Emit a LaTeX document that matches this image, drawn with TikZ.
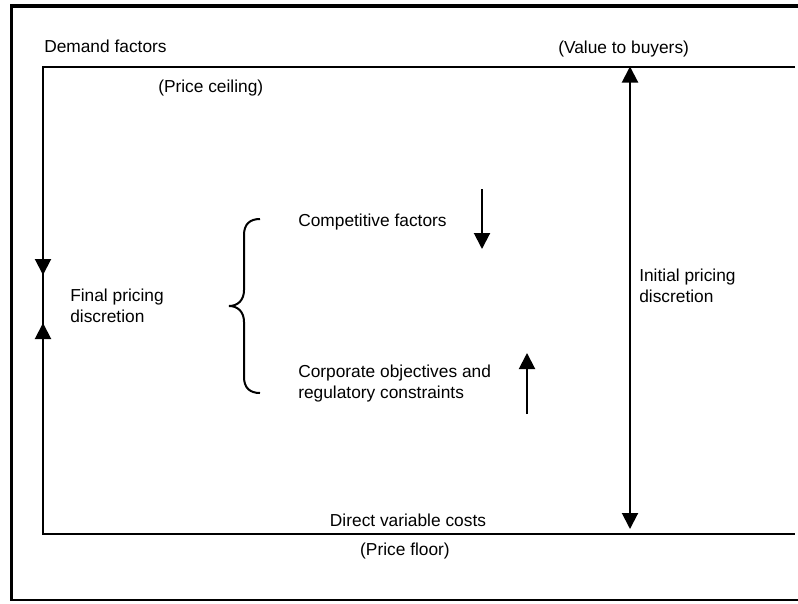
\documentclass[tikz,border=0pt]{standalone}
\usepackage{fontspec}
\setmainfont{Liberation Sans}
\usetikzlibrary{arrows.meta}
\begin{document}
\begin{tikzpicture}[x=0.75pt,y=-0.75pt,
  lbl/.style={inner sep=0pt,anchor=base west,align=left,
    font=\fontsize{13}{15.75}\selectfont},
  rule/.style={line width=1.5pt},
  push/.style={line width=1.5pt,-{Triangle[length=12pt,width=12pt]}},
  both/.style={line width=1.5pt,{Triangle[length=12pt,width=12pt]}-{Triangle[length=12pt,width=12pt]}}]
\useasboundingbox (0,0) rectangle (798,603);

% outer frame (open on the right)
\draw[line width=2.6pt] (10,6) -- (798,6);
\draw[line width=2.3pt] (11.5,4.5) -- (11.5,601);
\draw[line width=1.6pt] (10,600) -- (798,600);

% price ceiling, left edge and price floor
\coordinate (ceilL) at (43,66.5);
\coordinate (ceilR) at (795,66.5);
\coordinate (floorL) at (43,533.5);
\coordinate (floorR) at (795,533.5);
\draw[rule] (ceilR) -- (ceilL) -- (floorL) -- (floorR);

% labels (multi-line nodes sit on the baseline of their last line)
\node[lbl] (demand) at (44,52) {Demand factors};
\node[lbl] (value) at (558,53) {(Value to buyers)};
\node[lbl] (ceiling) at (158,92) {(Price ceiling)};
\node[lbl] (final) at (70,322) {Final pricing\\discretion};
\node[lbl] (initial) at (639,302) {Initial pricing\\discretion};
\node[lbl] (compet) at (298,226) {Competitive factors};
\node[lbl] (corp) at (298,398) {Corporate objectives and\\regulatory constraints};
\node[inner sep=0pt,anchor=base,font=\fontsize{13}{15.75}\selectfont] (direct) at (408,526) {Direct variable costs};
\node[inner sep=0pt,anchor=base,font=\fontsize{13}{15.75}\selectfont] (pfloor) at (405,555) {(Price floor)};

% arrows squeezing the final discretion
\coordinate (leftDownEnd) at (43,275);
\coordinate (leftUpEnd) at (43,323);
\draw[push] (ceilL) -- (leftDownEnd);
\draw[push] (floorL) -- (leftUpEnd);

% initial discretion span
\coordinate (spanTop) at (630,66.5);
\coordinate (spanBot) at (630,529);
\draw[both] (spanBot) -- (spanTop);

% competitive and corporate arrows
\coordinate (compA) at (482,189);
\coordinate (compB) at (482,249);
\draw[push] (compA) -- (compB);
\coordinate (corpA) at (527,414);
\coordinate (corpB) at (527,353);
\draw[push] (corpA) -- (corpB);

% brace
\draw[line width=1.5pt]
  (260,219) .. controls (250,219) and (244,224) .. (244,235)
  -- (244,290) .. controls (244,300) and (238,306) .. (229,306)
  .. controls (238,306) and (244,312) .. (244,322)
  -- (244,377) .. controls (244,388) and (250,393) .. (260,393);
\end{tikzpicture}
\end{document}
